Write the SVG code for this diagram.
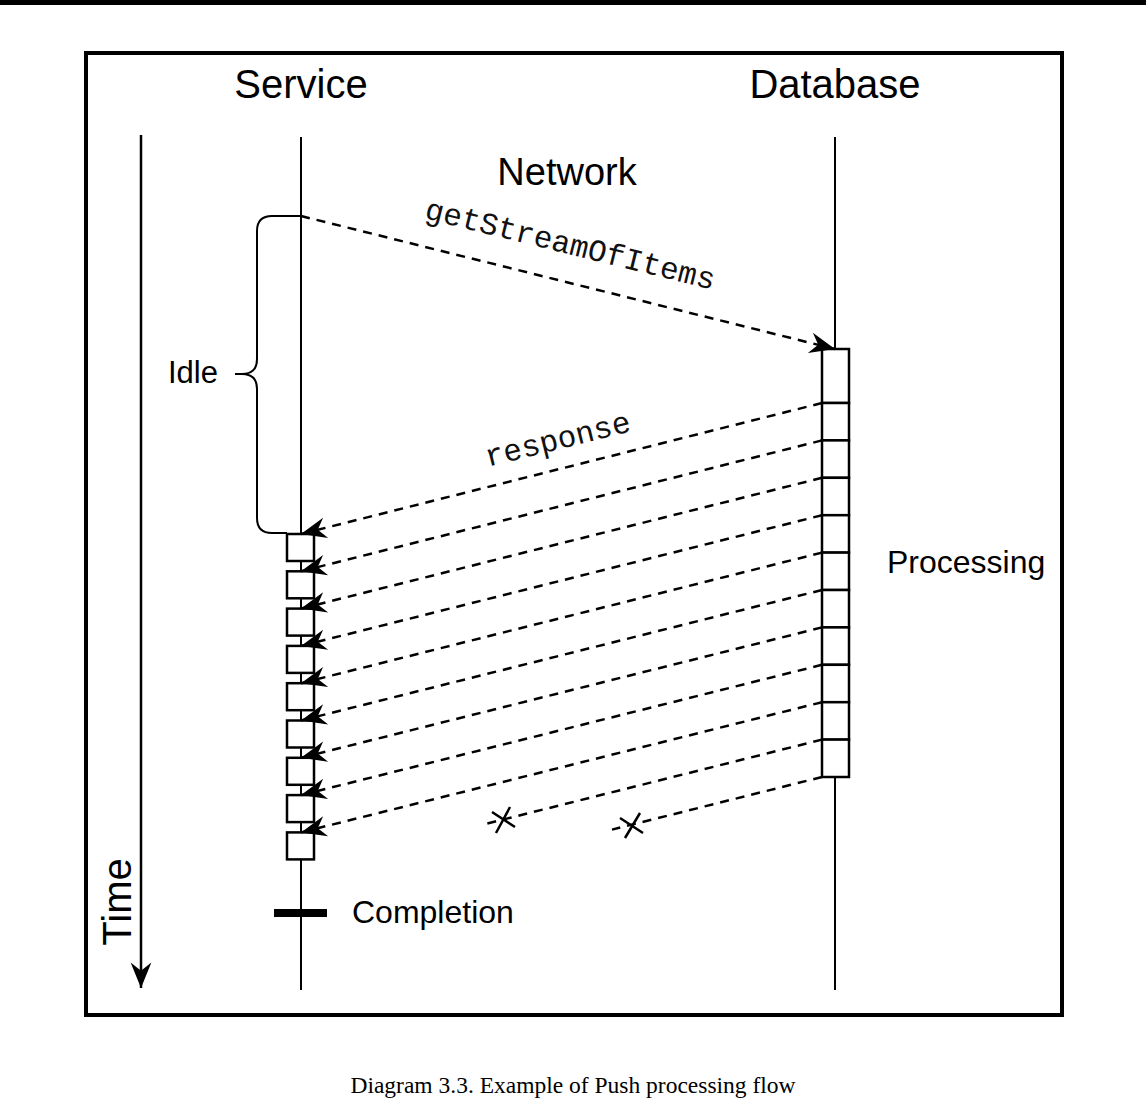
<svg xmlns="http://www.w3.org/2000/svg" width="1146" height="1116" viewBox="0 0 1146 1116">
<style>
.sans{font-family:"Liberation Sans",Arial,Helvetica,sans-serif;fill:#000}
.mono{font-family:"Liberation Mono","Courier New",monospace;fill:#111;font-size:31px}
.serif{font-family:"Liberation Serif","Times New Roman",serif;fill:#000}
.life{stroke:#000;stroke-width:2;fill:none}
.box{fill:#fff;stroke:#000;stroke-width:2.5}
.dash{stroke:#000;stroke-width:2.5;fill:none;stroke-dasharray:9 7}
</style>
<defs>
<marker id="arr" markerUnits="userSpaceOnUse" markerWidth="30" markerHeight="30" viewBox="-24 -12 26 24" refX="0" refY="0" orient="auto">
<path d="M0,0 L-22,-9 L-15,0 L-22,9 Z" fill="#000"/>
</marker>
</defs>
<rect x="0" y="0" width="1146" height="5" fill="#000"/>
<rect id="frame" x="86" y="53" width="976" height="962" fill="#fff" stroke="#000" stroke-width="4"/>
<g id="caption"><text class="serif" x="573" y="1093" font-size="23.5" text-anchor="middle">Diagram 3.3. Example of Push processing flow</text></g>
<g id="time">
<line x1="141" y1="135" x2="141" y2="988" stroke="#000" stroke-width="2.5" marker-end="url(#arr)"/>
<text class="sans" font-size="40" text-anchor="middle" transform="translate(131,902) rotate(-90)">Time</text>
</g>
<g id="service">
<text class="sans" x="301" y="98" font-size="40" text-anchor="middle">Service</text>
<line class="life" x1="301" y1="137" x2="301" y2="990"/>
</g>
<g id="database">
<text class="sans" x="835" y="98" font-size="40" text-anchor="middle">Database</text>
<line class="life" x1="835" y1="137" x2="835" y2="990"/>
</g>
<g id="network"><text class="sans" x="567" y="185" font-size="38" text-anchor="middle">Network</text></g>
<g id="idle">
<path d="M301,216 L272,216 Q257,216 257,231 L257,359 Q257,374 242,374 L235,374 M242,374 Q257,374 257,389 L257,518 Q257,533 272,533 L287,533" class="life"/>
<text class="sans" x="168" y="383" font-size="31">Idle</text>
</g>
<g id="processing">
<rect class="box" x="822" y="349" width="27" height="54"/>
<rect class="box" x="822" y="403" width="27" height="37.4"/>
<rect class="box" x="822" y="440.4" width="27" height="37.4"/>
<rect class="box" x="822" y="477.8" width="27" height="37.4"/>
<rect class="box" x="822" y="515.2" width="27" height="37.4"/>
<rect class="box" x="822" y="552.6" width="27" height="37.4"/>
<rect class="box" x="822" y="590" width="27" height="37.4"/>
<rect class="box" x="822" y="627.4" width="27" height="37.4"/>
<rect class="box" x="822" y="664.8" width="27" height="37.4"/>
<rect class="box" x="822" y="702.2" width="27" height="37.4"/>
<rect class="box" x="822" y="739.6" width="27" height="37.4"/>
<text class="sans" x="887" y="573" font-size="32">Processing</text>
</g>
<g id="received">
<rect class="box" x="287" y="534" width="27" height="27"/>
<rect class="box" x="287" y="571.3" width="27" height="27"/>
<rect class="box" x="287" y="608.6" width="27" height="27"/>
<rect class="box" x="287" y="645.9" width="27" height="27"/>
<rect class="box" x="287" y="683.2" width="27" height="27"/>
<rect class="box" x="287" y="720.5" width="27" height="27"/>
<rect class="box" x="287" y="757.8" width="27" height="27"/>
<rect class="box" x="287" y="795.1" width="27" height="27"/>
<rect class="box" x="287" y="832.4" width="27" height="27"/>
</g>
<g id="completion">
<line x1="274" y1="913" x2="327" y2="913" stroke="#000" stroke-width="8"/>
<text class="sans" x="352" y="923" font-size="32">Completion</text>
</g>
<g id="connectors">
<line class="dash" x1="301" y1="216" x2="835" y2="349" marker-end="url(#arr)"/>
<text class="mono" text-anchor="middle" transform="translate(568,254) rotate(13.9)">getStreamOfItems</text>
<line class="dash" x1="822" y1="403" x2="301" y2="534" marker-end="url(#arr)"/>
<line class="dash" x1="822" y1="440.4" x2="301" y2="571.3" marker-end="url(#arr)"/>
<line class="dash" x1="822" y1="477.8" x2="301" y2="608.6" marker-end="url(#arr)"/>
<line class="dash" x1="822" y1="515.2" x2="301" y2="645.9" marker-end="url(#arr)"/>
<line class="dash" x1="822" y1="552.6" x2="301" y2="683.2" marker-end="url(#arr)"/>
<line class="dash" x1="822" y1="590" x2="301" y2="720.5" marker-end="url(#arr)"/>
<line class="dash" x1="822" y1="627.4" x2="301" y2="757.8" marker-end="url(#arr)"/>
<line class="dash" x1="822" y1="664.8" x2="301" y2="795.1" marker-end="url(#arr)"/>
<line class="dash" x1="822" y1="702.2" x2="301" y2="832.4" marker-end="url(#arr)"/>
<text class="mono" text-anchor="middle" transform="translate(560,449) rotate(-13.9)">response</text>
<line class="dash" x1="822" y1="739.6" x2="487" y2="823.6"/>
<path d="M492,812 L515,827 M510,807 L496,833" stroke="#000" stroke-width="2.5" fill="none"/>
<line class="dash" x1="822" y1="777" x2="612" y2="829.6"/>
<path d="M620,818 L643,833 M640,813 L625,838" stroke="#000" stroke-width="2.5" fill="none"/>
</g>
</svg>
